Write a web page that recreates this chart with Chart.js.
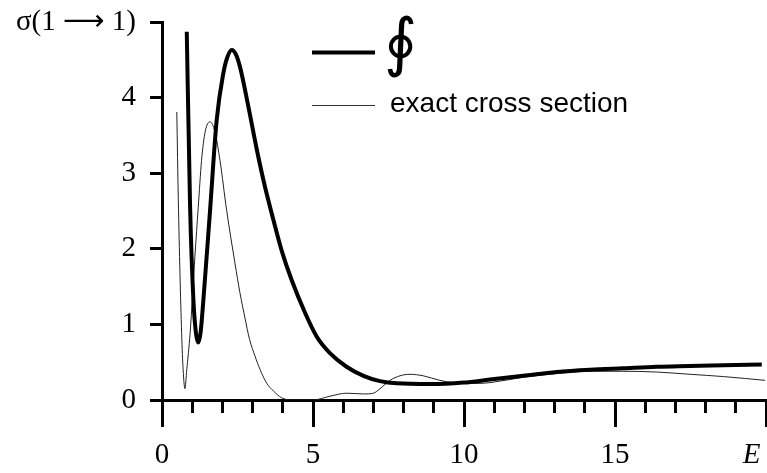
<!DOCTYPE html>
<html>
<head>
<meta charset="utf-8">
<script src="https://cdn.jsdelivr.net/npm/chart.js@4"></script>
<style>
    body { margin: 0; background: #fff; }
    #wrap { width: 767px; height: 473px; position: relative; }
</style>
</head>
<body>
<div id="wrap"><canvas id="crossSectionChart"></canvas></div>
<script>
// energy grid and sigma(1 -> 1) for the contour-integral estimate
const ointE = [0.82, 0.93, 1.04, 1.12, 1.20, 1.28, 1.37, 1.59, 1.81, 2.03, 2.15, 2.31, 2.45, 2.58,
    2.86, 3.14, 3.41, 3.69, 3.96, 4.29, 4.74, 5.12, 5.56, 6.11, 6.67, 7.22, 7.77, 8.87, 9.98,
    10.86, 11.96, 13.07, 14.17, 15.27, 16.38, 17.48, 18.59, 19.86];
const ointSigma = [4.87, 2.56, 1.32, 0.90, 0.76, 0.90, 1.32, 2.50, 3.70, 4.32, 4.52, 4.63, 4.57, 4.41,
    3.88, 3.31, 2.82, 2.38, 1.98, 1.59, 1.15, 0.84, 0.62, 0.44, 0.32, 0.25, 0.22, 0.21, 0.23,
    0.27, 0.32, 0.37, 0.40, 0.42, 0.44, 0.45, 0.46, 0.47];

// exact cross section
const exactE = [0.49, 0.54, 0.65, 0.70, 0.76, 0.82, 0.93, 1.09, 1.20, 1.31, 1.43, 1.59, 1.75, 1.92,
    2.14, 2.42, 2.58, 2.75, 2.90, 3.08, 3.25, 3.47, 3.69, 3.96, 4.3, 5.0, 5.56, 6.11, 6.67, 7.0, 7.22,
    7.55, 7.88, 8.21, 8.65, 9.2, 9.65, 10.5, 10.86, 11.96, 13.07, 14.17, 15.27, 16.38,
    17.48, 18.59, 19.97];
const exactSigma = [3.81, 2.65, 0.88, 0.40, 0.15, 0.40, 0.88, 1.90, 2.55, 3.17, 3.55, 3.68, 3.55, 3.17,
    2.51, 1.80, 1.42, 1.08, 0.80, 0.58, 0.40, 0.22, 0.12, 0.03, 0.0, 0.0, 0.05, 0.09, 0.08, 0.09, 0.15,
    0.26, 0.32, 0.34, 0.32, 0.26, 0.23, 0.22, 0.23, 0.30, 0.35, 0.38, 0.38, 0.37,
    0.34, 0.31, 0.26];

const xTicks = [0, 5, 10, 15, 20];
const xTickLabels = ["0", "5", "10", "15", "E\u2003"];
const yTickLabels = ["0", "1", "2", "3", "4", "σ(1 ⟶ 1)"];
const legendLabels = ["∮", "exact cross section"];

function toPoints(xs, ys) {
    return xs.map((x, i) => ({ x: x, y: ys[i] }));
}

// hand-drawn legend: a line sample followed by its label
const legendPlugin = {
    id: "sampleLegend",
    afterDraw(chart) {
        const ctx = chart.ctx;
        ctx.save();
        ctx.strokeStyle = "#000";
        ctx.lineWidth = 4;
        ctx.beginPath();
        ctx.moveTo(312, 52.5);
        ctx.lineTo(375, 52.5);
        ctx.stroke();
        ctx.lineWidth = 1;
        ctx.strokeStyle = "#333";
        ctx.beginPath();
        ctx.moveTo(312, 105.5);
        ctx.lineTo(375, 105.5);
        ctx.stroke();

        ctx.fillStyle = "#000";
        ctx.textBaseline = "middle";
        ctx.font = "64px 'DejaVu Sans'";
        ctx.fillText(legendLabels[0], 384, 47);
        ctx.font = "28px 'Liberation Sans'";
        ctx.fillText(legendLabels[1], 390, 104);
        ctx.restore();
    }
};

const serif = "'Liberation Serif', 'DejaVu Sans', serif";

new Chart(document.getElementById("crossSectionChart"), {
    type: "line",
    data: {
        datasets: [
            {
                label: legendLabels[0],
                data: toPoints(ointE, ointSigma),
                borderColor: "#000",
                borderWidth: 4,
                pointRadius: 0,
                cubicInterpolationMode: "monotone"
            },
            {
                label: legendLabels[1],
                data: toPoints(exactE, exactSigma),
                borderColor: "#222",
                borderWidth: 1,
                pointRadius: 0,
                cubicInterpolationMode: "monotone"
            }
        ]
    },
    options: {
        responsive: true,
        maintainAspectRatio: false,
        animation: false,
        layout: { padding: { top: 22, right: 1, left: 0, bottom: 0 } },
        plugins: {
            legend: { display: false },
            tooltip: { enabled: false }
        },
        scales: {
            // unit ticks only; takes no room so it sits on the main axis line
            xMinor: {
                type: "linear",
                position: "bottom",
                weight: 0,
                min: 0,
                max: 20,
                border: { display: false },
                grid: {
                    drawOnChartArea: false,
                    drawTicks: true,
                    tickLength: 13,
                    tickWidth: 3,
                    tickColor: "#000"
                },
                ticks: { stepSize: 1, autoSkip: false, display: false },
                afterFit: scale => {
                    scale.height = 0;
                    scale.paddingLeft = 0;
                    scale.paddingRight = 0;
                }
            },
            x: {
                type: "linear",
                position: "bottom",
                weight: 1,
                min: 0,
                max: 20,
                border: { display: true, color: "#000", width: 3 },
                grid: {
                    drawOnChartArea: false,
                    drawTicks: true,
                    tickLength: 27,
                    tickWidth: 3,
                    tickColor: "#000"
                },
                ticks: {
                    stepSize: 5,
                    autoSkip: false,
                    maxRotation: 0,
                    padding: 11,
                    color: "#000",
                    font: ctx => ({
                        family: serif,
                        size: 29,
                        style: (ctx.tick && ctx.tick.value === 20) ? "italic" : "normal"
                    }),
                    callback: value => {
                        const i = xTicks.indexOf(value);
                        return i < 0 ? "" : xTickLabels[i];
                    }
                },
                afterFit: scale => {
                    scale.height = 73;
                    scale.paddingLeft = 0;
                    scale.paddingRight = 0;
                }
            },
            y: {
                min: 0,
                max: 5,
                border: { display: true, color: "#000", width: 3 },
                grid: {
                    drawOnChartArea: false,
                    drawTicks: true,
                    tickLength: 12,
                    tickWidth: 3,
                    tickColor: "#000"
                },
                ticks: {
                    stepSize: 1,
                    padding: 14,
                    color: "#000",
                    font: { family: serif, size: 29 },
                    callback: value => yTickLabels[value]
                },
                afterFit: scale => {
                    scale.width = 162;
                    scale.paddingTop = 0;
                    scale.paddingBottom = 0;
                }
            }
        }
    },
    plugins: [legendPlugin]
});
</script>
</body>
</html>
